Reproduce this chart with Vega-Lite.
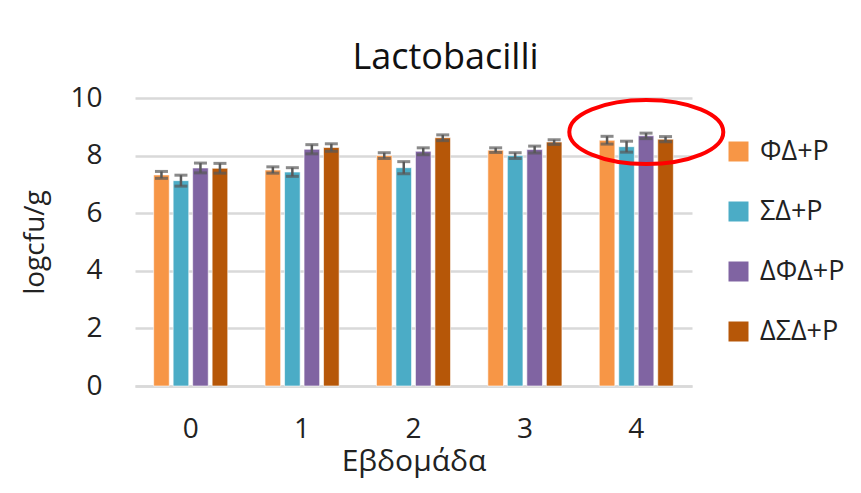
{
  "$schema": "https://vega.github.io/schema/vega-lite/v6.json",
  "autosize": {"type": "none"},
  "padding": {"left": 135, "top": 98, "right": 169, "bottom": 107},
  "width": 557,
  "height": 288,
  "background": "white",
  "config": {
    "font": "Open Sans",
    "view": {"stroke": null},
    "axis": {"labelColor": "#222", "titleColor": "#222", "titleFontWeight": "normal"},
    "legend": {"labelColor": "#222"}
  },
  "title": {
    "text": "Lactobacilli",
    "fontSize": 36,
    "fontWeight": "normal",
    "color": "#111",
    "anchor": "middle",
    "dx": 32,
    "offset": 7
  },
  "datasets": {
    "bars": [
      {"week": "0", "group": "ΦΔ+P", "value": 7.33, "lo": 7.21, "hi": 7.45},
      {"week": "1", "group": "ΦΔ+P", "value": 7.50, "lo": 7.39, "hi": 7.61},
      {"week": "2", "group": "ΦΔ+P", "value": 8.00, "lo": 7.90, "hi": 8.10},
      {"week": "3", "group": "ΦΔ+P", "value": 8.19, "lo": 8.11, "hi": 8.27},
      {"week": "4", "group": "ΦΔ+P", "value": 8.53, "lo": 8.40, "hi": 8.67},
      {"week": "0", "group": "ΣΔ+P", "value": 7.13, "lo": 6.94, "hi": 7.32},
      {"week": "1", "group": "ΣΔ+P", "value": 7.43, "lo": 7.28, "hi": 7.58},
      {"week": "2", "group": "ΣΔ+P", "value": 7.58, "lo": 7.37, "hi": 7.79},
      {"week": "3", "group": "ΣΔ+P", "value": 8.00, "lo": 7.90, "hi": 8.10},
      {"week": "4", "group": "ΣΔ+P", "value": 8.31, "lo": 8.12, "hi": 8.50},
      {"week": "0", "group": "ΔΦΔ+P", "value": 7.57, "lo": 7.40, "hi": 7.74},
      {"week": "1", "group": "ΔΦΔ+P", "value": 8.22, "lo": 8.06, "hi": 8.38},
      {"week": "2", "group": "ΔΦΔ+P", "value": 8.15, "lo": 8.03, "hi": 8.27},
      {"week": "3", "group": "ΔΦΔ+P", "value": 8.21, "lo": 8.09, "hi": 8.33},
      {"week": "4", "group": "ΔΦΔ+P", "value": 8.69, "lo": 8.59, "hi": 8.78},
      {"week": "0", "group": "ΔΣΔ+P", "value": 7.56, "lo": 7.39, "hi": 7.73},
      {"week": "1", "group": "ΔΣΔ+P", "value": 8.28, "lo": 8.15, "hi": 8.41},
      {"week": "2", "group": "ΔΣΔ+P", "value": 8.62, "lo": 8.52, "hi": 8.72},
      {"week": "3", "group": "ΔΣΔ+P", "value": 8.47, "lo": 8.39, "hi": 8.55},
      {"week": "4", "group": "ΔΣΔ+P", "value": 8.57, "lo": 8.48, "hi": 8.66}
    ],
    "note": [
      {"week": "4", "level": 8.82}
    ]
  },
  "layer": [
    {
      "data": {"name": "bars"},
      "mark": {"type": "bar", "stroke": "white", "strokeWidth": 1, "strokeOpacity": 0.6},
      "encoding": {
        "x": {
          "field": "week", "type": "nominal",
          "scale": {"paddingInner": 0.3, "paddingOuter": 0.15},
          "axis": {
            "title": "Εβδομάδα", "titleFontSize": 30, "titlePadding": 3,
            "labelFontSize": 28, "labelAngle": 0, "labelPadding": 29,
            "ticks": false, "domainColor": "#D9D9D9", "domainWidth": 2.5, "grid": false
          }
        },
        "xOffset": {
          "field": "group", "type": "nominal",
          "sort": ["ΦΔ+P", "ΣΔ+P", "ΔΦΔ+P", "ΔΣΔ+P"],
          "scale": {"paddingInner": 0.2, "paddingOuter": 0.1}
        },
        "y": {
          "field": "value", "type": "quantitative",
          "scale": {"domain": [0, 10]},
          "axis": {
            "title": "logcfu/g", "titleFontSize": 28, "titlePadding": 20,
            "labelFontSize": 28, "labelPadding": 33, "values": [0, 2, 4, 6, 8, 10],
            "ticks": false, "domain": false, "gridColor": "#D9D9D9", "gridWidth": 2.5
          }
        },
        "color": {
          "field": "group", "type": "nominal",
          "sort": ["ΦΔ+P", "ΣΔ+P", "ΔΦΔ+P", "ΔΣΔ+P"],
          "scale": {
            "domain": ["ΦΔ+P", "ΣΔ+P", "ΔΦΔ+P", "ΔΣΔ+P"],
            "range": ["#F79646", "#4BACC6", "#8064A2", "#B65708"]
          },
          "legend": {
            "title": null, "orient": "none", "legendX": 590, "legendY": 40,
            "symbolType": "square", "symbolSize": 400, "symbolStrokeWidth": 0,
            "labelFontSize": 27, "labelOffset": 8, "rowPadding": 32
          }
        }
      }
    },
    {
      "data": {"name": "bars"},
      "mark": {"type": "rule", "color": "#595959", "strokeWidth": 2.5},
      "encoding": {
        "x": {"field": "week", "type": "nominal"},
        "xOffset": {"field": "group", "type": "nominal", "sort": ["ΦΔ+P", "ΣΔ+P", "ΔΦΔ+P", "ΔΣΔ+P"]},
        "y": {"field": "lo", "type": "quantitative"},
        "y2": {"field": "hi"}
      }
    },
    {
      "data": {"name": "bars"},
      "mark": {"type": "tick", "color": "#595959", "thickness": 3, "size": 13, "orient": "horizontal"},
      "encoding": {
        "x": {"field": "week", "type": "nominal"},
        "xOffset": {"field": "group", "type": "nominal", "sort": ["ΦΔ+P", "ΣΔ+P", "ΔΦΔ+P", "ΔΣΔ+P"]},
        "y": {"field": "lo", "type": "quantitative"}
      }
    },
    {
      "data": {"name": "bars"},
      "mark": {"type": "tick", "color": "#595959", "thickness": 3, "size": 13, "orient": "horizontal"},
      "encoding": {
        "x": {"field": "week", "type": "nominal"},
        "xOffset": {"field": "group", "type": "nominal", "sort": ["ΦΔ+P", "ΣΔ+P", "ΔΦΔ+P", "ΔΣΔ+P"]},
        "y": {"field": "hi", "type": "quantitative"}
      }
    },
    {
      "data": {"name": "note"},
      "mark": {
        "type": "point", "filled": false, "stroke": "#FF0000", "strokeWidth": 4, "opacity": 1, "xOffset": 10,
        "shape": "M -1 0 C -1 -0.23 -0.552 -0.416 0 -0.416 C 0.552 -0.416 1 -0.23 1 0 C 1 0.23 0.552 0.416 0 0.416 C -0.552 0.416 -1 0.23 -1 0 Z",
        "size": 23716
      },
      "encoding": {
        "x": {"field": "week", "type": "nominal"},
        "y": {"field": "level", "type": "quantitative"}
      }
    }
  ]
}
